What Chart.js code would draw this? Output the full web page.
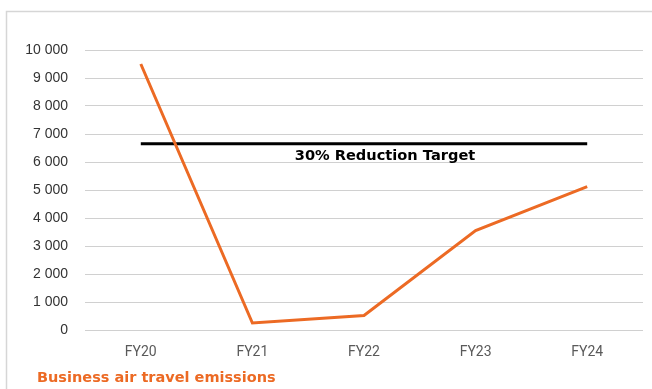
<!DOCTYPE html>
<html>
<head>
<meta charset="utf-8">
<script src="https://cdn.jsdelivr.net/npm/chart.js@4"></script>
<style>
  html, body { margin: 0; padding: 0; background: #fff; }
  #wrap { position: relative; width: 652px; height: 389px; }
</style>
</head>
<body>
<div id="wrap"><canvas id="chart" width="652" height="389"></canvas></div>
<script>
// Business air travel emissions by financial year
const years = ['FY20', 'FY21', 'FY22', 'FY23', 'FY24'];
const emissions = [9500, 250, 520, 3550, 5120];
const reductionTarget = [6650, 6650, 6650, 6650, 6650];
const yTicks = [0, 1000, 2000, 3000, 4000, 5000, 6000, 7000, 8000, 9000, 10000];

const ORANGE = '#EC6A24';

// Outer frame, bottom caption and the target label
const decor = {
  id: 'decor',
  afterDraw(chart) {
    const ctx = chart.ctx;
    ctx.save();
    ctx.strokeStyle = '#d6d6d6';
    ctx.lineWidth = 1.5;
    ctx.beginPath();
    ctx.moveTo(6.5, 389);
    ctx.lineTo(6.5, 11.5);
    ctx.lineTo(652, 11.5);
    ctx.stroke();

    const x = chart.scales.x;
    const y = chart.scales.y;
    const midX = (x.getPixelForValue(0) + x.getPixelForValue(years.length - 1)) / 2;
    const ty = y.getPixelForValue(reductionTarget[0]);
    ctx.fillStyle = '#000';
    ctx.font = 'bold 14.6px "DejaVu Sans"';
    ctx.textAlign = 'center';
    ctx.textBaseline = 'middle';
    ctx.fillText('30% Reduction Target', midX + 21, ty + 12);

    ctx.fillStyle = ORANGE;
    ctx.font = 'bold 14.5px "DejaVu Sans"';
    ctx.textAlign = 'left';
    ctx.fillText('Business air travel emissions', 37, 378);
    ctx.restore();
  }
};

new Chart(document.getElementById('chart'), {
  type: 'line',
  data: {
    labels: years,
    datasets: [
      {
        label: 'Business air travel emissions',
        data: emissions,
        borderColor: ORANGE,
        borderWidth: 3,
        pointRadius: 0,
        tension: 0,
        order: 1
      },
      {
        label: '30% Reduction Target',
        data: reductionTarget,
        borderColor: '#000',
        borderWidth: 3,
        pointRadius: 0,
        tension: 0,
        order: 2
      }
    ]
  },
  options: {
    responsive: false,
    animation: false,
    layout: { padding: { left: 0, top: 50, right: 9, bottom: 0 } },
    plugins: { legend: { display: false }, tooltip: { enabled: false } },
    scales: {
      x: {
        offset: true,
        grid: { display: false, drawTicks: false },
        border: { display: false },
        ticks: {
          color: '#5a5a5a',
          font: { family: '"Liberation Sans Narrow", "Roboto", sans-serif', size: 14 },
          padding: 14
        },
        afterFit(scale) { scale.height = 59; }
      },
      y: {
        min: 0,
        max: 10000,
        afterBuildTicks(scale) { scale.ticks = yTicks.map(v => ({ value: v })); },
        grid: { color: '#d0d0d0', lineWidth: 1, drawTicks: false },
        border: { display: false },
        ticks: {
          color: '#333',
          font: { family: '"Liberation Sans", Arial, sans-serif', size: 14 },
          padding: 17,
          callback: v => v.toLocaleString('en-US').replace(/,/g, ' ')
        },
        afterFit(scale) { scale.width = 85; }
      }
    }
  },
  plugins: [decor]
});
</script>
</body>
</html>
